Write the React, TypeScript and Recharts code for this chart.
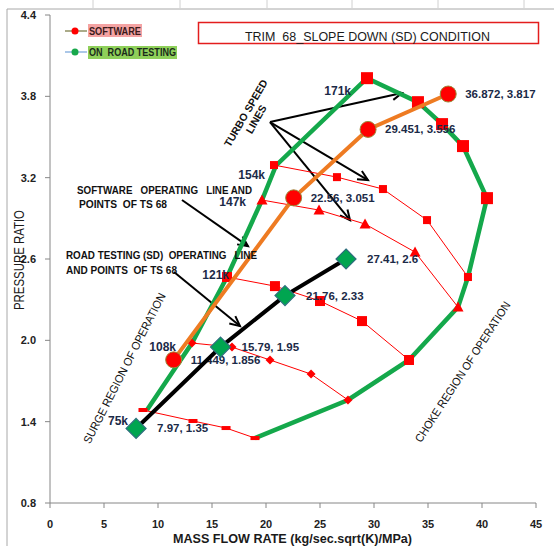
import { ReferenceLine, Scatter, ScatterChart, XAxis, YAxis } from 'recharts';

const FONT = '"Liberation Sans", Arial, sans-serif';
const NAVY = '#1b2a47';

const xTicks = [0, 5, 10, 15, 20, 25, 30, 35, 40, 45];
const yTicks = [0.8, 1.4, 2.0, 2.6, 3.2, 3.8, 4.4];

// surge + choke boundary (green)
const envelope = [
  { x: 8.98, y: 1.486 },
  { x: 13.15, y: 1.98 },
  { x: 16.39, y: 2.467 },
  { x: 19.63, y: 3.035 },
  { x: 20.93, y: 3.29 },
  { x: 29.35, y: 3.934 },
  { x: 34.07, y: 3.757 },
  { x: 36.3, y: 3.595 },
  { x: 38.24, y: 3.433 },
  { x: 40.46, y: 3.049 },
  { x: 38.7, y: 2.467 },
  { x: 37.78, y: 2.245 },
  { x: 33.24, y: 1.855 },
  { x: 27.59, y: 1.56 },
  { x: 18.98, y: 1.279 },
];

// turbo speed lines
const speed171 = [
  { x: 29.35, y: 3.934 },
  { x: 34.07, y: 3.757 },
  { x: 36.3, y: 3.595 },
  { x: 38.24, y: 3.433 },
  { x: 40.46, y: 3.049 },
];
const speed154 = [
  { x: 20.74, y: 3.293 },
  { x: 26.57, y: 3.204 },
  { x: 30.83, y: 3.116 },
  { x: 34.91, y: 2.887 },
  { x: 38.7, y: 2.467 },
];
const speed147 = [
  { x: 19.63, y: 3.035 },
  { x: 24.91, y: 2.961 },
  { x: 29.17, y: 2.858 },
  { x: 33.8, y: 2.651 },
  { x: 37.78, y: 2.245 },
];
const speed121 = [
  { x: 16.39, y: 2.467 },
  { x: 20.83, y: 2.4 },
  { x: 25.0, y: 2.29 },
  { x: 28.89, y: 2.142 },
  { x: 33.24, y: 1.855 },
];
const speed108 = [
  { x: 13.15, y: 1.98 },
  { x: 16.85, y: 1.95 },
  { x: 20.37, y: 1.855 },
  { x: 24.17, y: 1.751 },
  { x: 27.59, y: 1.56 },
];
const speed75 = [
  { x: 8.61, y: 1.486 },
  { x: 13.24, y: 1.405 },
  { x: 16.3, y: 1.353 },
  { x: 18.98, y: 1.279 },
];

const software = [
  { x: 11.449, y: 1.856 },
  { x: 22.56, y: 3.051 },
  { x: 29.451, y: 3.556 },
  { x: 36.872, y: 3.817 },
];
const road = [
  { x: 7.97, y: 1.35 },
  { x: 15.79, y: 1.95 },
  { x: 21.76, y: 2.33 },
  { x: 27.41, y: 2.6 },
];

// annotation arrows (data coords)
const arrows = [
  [{ x: 20.37, y: 3.61 }, { x: 32.59, y: 3.824 }],
  [{ x: 20.37, y: 3.61 }, { x: 29.44, y: 3.182 }],
  [{ x: 20.37, y: 3.61 }, { x: 27.78, y: 2.887 }],
  [{ x: 12.22, y: 3.035 }, { x: 18.33, y: 2.695 }],
  [{ x: 11.48, y: 2.504 }, { x: 17.59, y: 2.105 }],
];

const speedLabels = [
  { text: '171k', x: 351, y: 95 },
  { text: '154k', x: 265, y: 179 },
  { text: '147k', x: 246, y: 206 },
  { text: '121k', x: 229, y: 279 },
  { text: '108k', x: 176, y: 351 },
  { text: '75k', x: 128, y: 425 },
];

const square = (s: number) => (p: any) => (
  <rect x={p.cx - s / 2} y={p.cy - s / 2} width={s} height={s} fill="#ff0000" />
);
const triangle = (s: number) => (p: any) => (
  <polygon
    points={`${p.cx},${p.cy - s / 2} ${p.cx + s / 2},${p.cy + s / 2 - 1} ${p.cx - s / 2},${p.cy + s / 2 - 1}`}
    fill="#ff0000"
  />
);
const smallDiamond = (s: number) => (p: any) => (
  <polygon
    points={`${p.cx},${p.cy - s / 2} ${p.cx + s / 2},${p.cy} ${p.cx},${p.cy + s / 2} ${p.cx - s / 2},${p.cy}`}
    fill="#ff0000"
  />
);
const dash = (p: any) => <rect x={p.cx - 4.5} y={p.cy - 2} width={9} height={4} fill="#ff0000" />;
const none = () => <g />;

const labelText = (p: any, dx: number) => (
  <text x={p.cx + dx} y={p.cy + 4} fontSize={11.5} fontWeight="bold" fill={NAVY} fontFamily={FONT}>
    {`${p.payload.x}, ${p.payload.y}`}
  </text>
);

const softwareShape = (p: any) => (
  <g>
    <circle cx={p.cx} cy={p.cy} r={8} fill="#ff0000" stroke="#9a8a3a" strokeWidth={1} />
    {labelText(p, 17)}
  </g>
);
const roadShape = (p: any) => (
  <g>
    <polygon
      points={`${p.cx},${p.cy - 10} ${p.cx + 10},${p.cy} ${p.cx},${p.cy + 10} ${p.cx - 10},${p.cy}`}
      fill="#00a550"
      stroke="#2e6e7e"
      strokeWidth={1.2}
    />
    {labelText(p, 21)}
  </g>
);

const arrowShape = (p: any) => {
  const { x1, y1, x2, y2 } = p;
  const a = Math.atan2(y2 - y1, x2 - x1);
  const L = 11;
  const w = 0.45;
  return (
    <g stroke="#000" strokeWidth={2} fill="none">
      <line x1={x1} y1={y1} x2={x2} y2={y2} />
      <polyline
        points={`${x2 - L * Math.cos(a - w)},${y2 - L * Math.sin(a - w)} ${x2},${y2} ${x2 - L * Math.cos(a + w)},${y2 - L * Math.sin(a + w)}`}
      />
    </g>
  );
};

const redLine = { stroke: '#ff0000', strokeWidth: 1 };
const pre = { whiteSpace: 'pre' as const };

export default function App() {
  return (
    <div style={{ position: 'absolute', left: 0, top: 0, width: 554, height: 546, background: '#fff' }}>
      <svg width={554} height={546} style={{ position: 'absolute', left: 0, top: 0 }}>
        <line x1={7} y1={9} x2={554} y2={9} stroke="#a8a8a8" />
        <line x1={7} y1={9} x2={7} y2={546} stroke="#a8a8a8" />
        {[93, 180, 267, 352, 438, 524].map((x) => (
          <line key={x} x1={x} y1={0} x2={x} y2={8} stroke="#d0d0d0" />
        ))}
      </svg>
      <div style={{ position: 'absolute', left: 0, top: 0 }}>
        <ScatterChart width={554} height={546} margin={{ top: 15, right: 18, bottom: 13, left: 10 }}>
          <XAxis
            type="number"
            dataKey="x"
            domain={[0, 45]}
            ticks={xTicks}
            height={30}
            tickSize={5}
            tickMargin={12}
            axisLine={{ stroke: '#868686' }}
            tickLine={{ stroke: '#868686' }}
            tick={{ fill: '#222', fontSize: 11, fontWeight: 'bold', fontFamily: FONT }}
          />
          <YAxis
            type="number"
            dataKey="y"
            domain={[0.8, 4.4]}
            ticks={yTicks}
            width={40}
            tickSize={5}
            tickMargin={9}
            tickFormatter={(v: number) => v.toFixed(1)}
            axisLine={{ stroke: '#868686' }}
            tickLine={{ stroke: '#868686' }}
            tick={{ fill: '#222', fontSize: 11, fontWeight: 'bold', fontFamily: FONT }}
          />
          <Scatter data={envelope} isAnimationActive={false} line={{ stroke: '#14a84b', strokeWidth: 4.5 }} shape={none} />
          <Scatter data={speed154} isAnimationActive={false} line={redLine} shape={square(8)} />
          <Scatter data={speed147} isAnimationActive={false} line={redLine} shape={triangle(11)} />
          <Scatter data={speed121} isAnimationActive={false} line={redLine} shape={square(10)} />
          <Scatter data={speed108} isAnimationActive={false} line={redLine} shape={smallDiamond(9)} />
          <Scatter data={speed75} isAnimationActive={false} line={redLine} shape={dash} />
          <Scatter data={speed171} isAnimationActive={false} shape={square(12)} />
          <Scatter data={software} isAnimationActive={false} line={{ stroke: '#ee7b22', strokeWidth: 4 }} shape={softwareShape} />
          <Scatter data={road} isAnimationActive={false} line={{ stroke: '#000', strokeWidth: 4 }} shape={roadShape} />
          {arrows.map((seg, i) => (
            <ReferenceLine key={i} segment={seg} stroke="#000" shape={arrowShape} />
          ))}
        </ScatterChart>
      </div>
      <svg
        width={554}
        height={546}
        style={{ position: 'absolute', left: 0, top: 0, pointerEvents: 'none' }}
        fontFamily={FONT}
      >
        {/* title */}
        <rect x={198.5} y={22.5} width={340} height={21} fill="none" stroke="#e31d1d" strokeWidth={1.5} />
        <text x={245} y={41} fontSize={13} fill="#1a1a1a" textLength={245} lengthAdjust="spacingAndGlyphs" style={pre}>
          {'TRIM  68_SLOPE DOWN (SD) CONDITION'}
        </text>

        {/* legend */}
        <rect x={88} y={24} width={54} height={13} fill="#f4a3a3" />
        <rect x={88} y={46} width={89} height={13} fill="#8fd05a" />
        <line x1={65} y1={31} x2={87} y2={31} stroke="#8f8f62" strokeWidth={1.5} />
        <circle cx={75} cy={31} r={3.5} fill="#ff0000" />
        <line x1={65} y1={52} x2={87} y2={52} stroke="#8fb4e0" strokeWidth={1.5} />
        <circle cx={75} cy={52} r={3.5} fill="#18a84b" />
        <text x={89} y={35} fontSize={10} fontWeight="bold" fill="#3a1a1a" textLength={52} lengthAdjust="spacingAndGlyphs">
          SOFTWARE
        </text>
        <text x={89} y={56} fontSize={10} fontWeight="bold" fill="#1a2a1a" textLength={87} lengthAdjust="spacingAndGlyphs" style={pre}>
          {'ON  ROAD TESTING'}
        </text>

        {/* speed labels */}
        {speedLabels.map((l) => (
          <text key={l.text} x={l.x} y={l.y} textAnchor="end" fontSize={12} fontWeight="bold" fill={NAVY}>
            {l.text}
          </text>
        ))}

        {/* annotations */}
        <g fontSize={11} fontWeight="bold" fill="#111">
          <text x={77} y={194} textLength={175} lengthAdjust="spacingAndGlyphs" style={pre}>
            {'SOFTWARE   OPERATING   LINE AND'}
          </text>
          <text x={79} y={208} textLength={88} lengthAdjust="spacingAndGlyphs" style={pre}>
            {'POINTS  OF TS 68'}
          </text>
          <text x={66} y={259} textLength={191} lengthAdjust="spacingAndGlyphs" style={pre}>
            {'ROAD TESTING (SD)  OPERATING   LINE'}
          </text>
          <text x={66} y={274} textLength={111} lengthAdjust="spacingAndGlyphs" style={pre}>
            {'AND POINTS  OF TS 68'}
          </text>
        </g>
        <g transform="translate(249,115) rotate(-60)" fontSize={10.5} fontWeight="bold" fill="#111" textAnchor="middle">
          <text x={0} y={0}>TURBO SPEED</text>
          <text x={0} y={12}>LINES</text>
        </g>
        <text
          transform="translate(128,370) rotate(-63)"
          textAnchor="middle"
          fontSize={11.5}
          fill="#111"
          textLength={167}
          lengthAdjust="spacingAndGlyphs"
        >
          SURGE REGION OF OPERATION
        </text>
        <text
          transform="translate(466,374) rotate(-57)"
          textAnchor="middle"
          fontSize={11.5}
          fill="#111"
          textLength={165}
          lengthAdjust="spacingAndGlyphs"
        >
          CHOKE REGION OF OPERATION
        </text>

        {/* axis titles */}
        <text
          transform="translate(24,260) rotate(-90)"
          textAnchor="middle"
          fontSize={14}
          fill="#1a1a1a"
          textLength={100}
          lengthAdjust="spacingAndGlyphs"
        >
          PRESSURE RATIO
        </text>
        <text x={173} y={543} fontSize={13} fontWeight="bold" fill="#1a1a1a" textLength={239} lengthAdjust="spacingAndGlyphs">
          MASS FLOW RATE (kg/sec.sqrt(K)/MPa)
        </text>
      </svg>
    </div>
  );
}
